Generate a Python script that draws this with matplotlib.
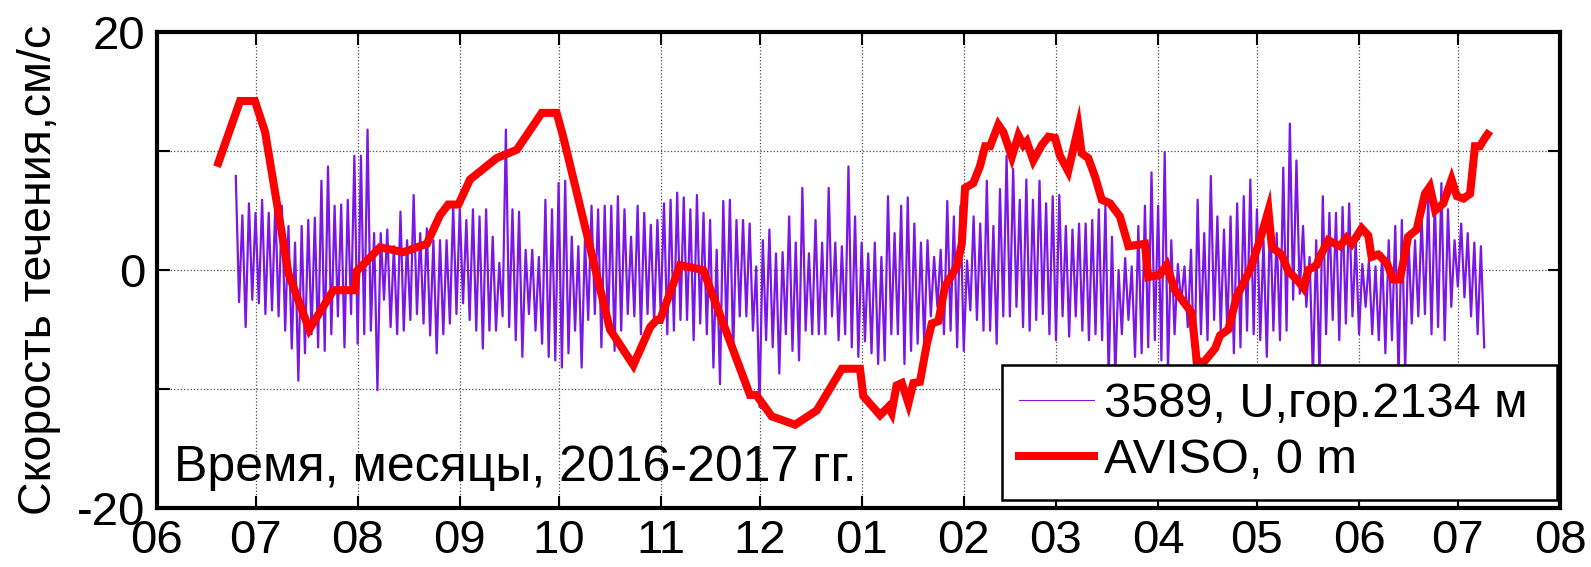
import numpy as np
import matplotlib
matplotlib.use('Agg')
import matplotlib.pyplot as plt
import matplotlib.dates as mdates
from datetime import datetime

plt.rcParams['font.family'] = ['Liberation Sans', 'DejaVu Sans']

# days counted from 2016-06-01
START = datetime(2016, 6, 1)

# AVISO surface velocity, cm/s
aviso_day = [18.7, 25.3, 29.8, 32.9, 40.0, 46.3, 53.6, 60.2, 60.7, 67.8, 74.9, 82.0, 86.0,
             88.5, 91.6, 95.1, 103.2, 109.3, 116.9, 121.4, 123.4, 137.6, 144.7, 149.8,
             151.8, 152.8, 158.9, 165.9, 180.1, 182.0, 186.7, 193.8, 200.4, 208.0, 213.5,
             214.5, 219.6, 222.1, 223.1, 224.6, 226.2, 228.2, 229.7, 231.7, 233.8, 235.3,
             237.3, 239.3, 242.9, 244.4, 245.4, 247.9, 249.9, 251.5, 253.0, 255.5, 257.0,
             259.6, 261.6, 263.1, 264.1, 266.1, 268.7, 270.7, 272.7, 274.2, 276.7, 279.8,
             280.8, 282.8, 284.9, 286.9, 289.4, 292.4, 295.0, 297.5, 300.0, 301.0, 304.6,
             306.6, 309.1, 314.2, 315.7, 317.7, 321.3, 322.8, 325.3, 327.9, 331.9, 334.9,
             337.5, 338.5, 339.5, 341.5, 343.5, 346.1, 348.1, 349.6, 352.1, 353.1, 355.7,
             357.7, 359.2, 361.2, 362.8, 365.8, 367.8, 368.8, 370.8, 373.4, 375.4, 377.4,
             378.4, 379.9, 382.5, 385.0, 386.5, 388.1, 390.6, 393.1, 394.7, 396.7, 398.7,
             400.2, 401.7, 403.0, 404.0]
aviso_val = [9.0, 14.2, 14.2, 11.6, -0.3, -5.0, -1.7, -1.7, -0.1, 1.9, 1.5, 2.2, 4.6,
             5.5, 5.5, 7.6, 9.4, 10.1, 13.2, 13.2, 11.2, -5.0, -8.0, -4.8,
             -4.2, -4.2, 0.4, 0.0, -10.5, -10.5, -12.3, -13.0, -11.8, -8.3, -8.3,
             -10.6, -12.2, -11.5, -12.0, -9.7, -9.5, -11.2, -9.5, -9.4, -6.2, -4.5,
             -4.3, -1.4, 0.3, 2.2, 6.9, 7.3, 8.7, 10.4, 10.4, 12.2, 11.6,
             9.5, 11.3, 10.5, 10.8, 9.2, 10.5, 11.2, 11.1, 9.6, 8.3, 12.0,
             9.8, 9.4, 7.8, 5.9, 5.6, 4.5, 2.0, 2.1, 2.2, -0.6, -0.4,
             0.4, -1.7, -3.6, -7.6, -7.8, -6.6, -5.5, -5.0, -2.2, 0.0, 2.5,
             5.0, 2.0, 1.7, 1.3, -0.1, -0.8, -1.5, 0.0, 0.4, 1.1, 2.5,
             2.2, 2.0, 2.7, 2.2, 3.5, 2.9, 1.1, 1.3, 0.6, -0.8, -0.8,
             0.6, 2.8, 3.4, 6.4, 7.0, 5.0, 5.6, 7.6, 6.2, 6.0, 6.4,
             10.4, 10.4, 11.0, 11.4]

# mooring 3589, U component at 2134 m: successive maxima / minima, 2-day steps from day 24
mooring_first_day = 24
mooring_step = 2
mooring_hi = [7.9, 4.6, 5.6, 4.8, 5.9, 4.8, 5.5, 5.4, 3.7, 2.3, 3.7, 4.2, 4.4, 7.5, 8.7, 5.4,
              5.5, 5.9, 9.6, 9.6, 11.8, 3.1, 3.1, 3.4, 2.0, 4.9, 2.5, 6.3, 3.1, 3.5, 2.5, 2.5,
              2.5, 5.4, 5.1, 4.2, 5.1, 4.5, 5.1, 2.8, 0.6, 11.8, 5.1, 4.9, 1.7, 1.7, 1.1, 5.9,
              5.1, 7.3, 7.5, 2.8, 2.0, 2.5, 5.4, 5.1, 5.4, 5.4, 6.2, 5.1, 2.8, 5.4, 4.8,
              3.8, 4.2, 5.6, 5.9, 6.5, 6.1, 5.1, 6.3, 4.8, 4.2, 1.7, 5.8, 5.9, 4.2, 4.2, 3.9,
              0.3, 2.5, 3.4, 1.4, 1.5, 4.5, 2.3, 6.9, 1.4, 4.2, 2.3, 6.9, 2.3, 2.0, 8.7, 4.5,
              2.3, 1.4, 2.3, 1.1, 6.2, 3.1, 5.4, 6.1, 3.9, 2.3, 2.5, 1.1, 1.7, 5.8, 4.5, 5.4,
              0.8, 4.5, 3.9, 7.5, 3.7, 6.8, 9.6, 8.5, 5.9, 7.6, 5.9, 7.5, 5.6, 6.2, 6.3, 3.7,
              3.4, 3.9, 3.9, 4.2, 5.1, 5.4, 2.8, 0.0, 1.0, 0.3, 3.7, 5.4, 8.2, 5.4, 9.9, 2.5,
              0.5, 0.3, 1.7, 5.9, 3.1, 7.9, 4.5, 3.4, 4.5, 5.6, 6.2, 7.6, 5.1, 2.5, 4.8, 3.1,
              8.6, 12.3, 9.2, 3.7, 1.1, 2.5, 6.2, 4.8, 4.8, 5.3, 5.6, 2.5, 0.5, 0.8, 0.3, 1.4,
              2.5, 3.7, 4.2, 2.8, 2.5, 4.5, 6.2, 5.9, 7.3, 5.1, 2.5, 3.9, 3.1, 2.3, 2.0]
mooring_lo = [-2.7, -4.8, -2.5, -2.8, -3.7, -3.4, -3.9, -5.1, -6.6, -9.3, -7.0, -5.4, -6.5,
              -6.8, -5.4, -3.9, -6.5, -3.7, -6.2, -5.4, -5.1, -10.1, -2.5, -4.8, -5.4, -5.1,
              -4.2, -3.7, -4.5, -5.5, -7.0, -5.4,
              -4.5, -3.7, -2.8, -4.2, -5.1, -6.6, -5.1, -5.1, -3.9, -4.8, -5.9, -7.3, -3.7,
              -5.1, -6.2, -7.3, -7.6, -8.2, -7.0, -5.1, -8.2, -4.2, -3.7, -6.5, -5.1, -6.8,
              -5.1, -3.7, -3.9, -5.4, -3.7,
              -4.5, -3.7, -5.4, -5.1, -4.2, -4.2, -5.9, -4.5, -5.4, -8.2, -9.6, -5.4, -7.0,
              -3.9, -3.9, -5.1, -11.5, -5.9, -6.5, -8.7, -5.4, -6.8, -7.6, -5.1, -5.4, -5.4,
              -5.4, -3.9, -5.9, -5.4, -6.5, -7.3,
              -6.0, -7.0, -7.9, -7.6, -5.4, -5.4, -7.9, -6.8, -6.2, -6.2, -3.9, -3.1, -5.4,
              -5.1, -6.5, -6.8, -3.4, -4.2, -5.1, -5.1, -6.2, -3.9, -3.9, -3.1, -4.8, -5.1,
              -4.2, -3.7, -5.4, -5.9, -3.9, -5.6,
              -3.9, -5.1, -5.9, -5.4, -5.9, -9.0, -9.0, -5.4, -4.2, -7.3, -7.0, -6.5, -5.9,
              -7.6, -8.5, -5.4, -2.8, -4.8, -9.0, -5.4, -5.9, -4.2, -5.1, -5.1, -7.0, -6.5,
              -5.1, -5.4, -5.9, -7.3, -5.1, -5.9,
              -5.1, -2.5, -2.0, -3.1, -9.0, -9.0, -5.4, -4.2, -5.9, -4.5, -3.9, -5.4, -3.1,
              -5.4, -5.9, -7.0, -5.9, -9.0, -8.5, -4.5, -3.9, -3.7, -5.4, -4.8, -5.9, -3.1,
              -1.4, -2.3, -3.9, -5.4, -6.5]

month_fmt = '%m'
y_ticks = [-20, -10, 0, 10, 20]
y_ticklabels = ['-20', '', '0', '', '20']
label_mooring = '3589, U,гор.2134 м'
label_aviso = 'AVISO, 0 m'
ylabel = 'Скорость течения,см/с'
xnote = 'Время, месяцы, 2016-2017 гг.'

t0 = mdates.date2num(START)

# interleave maxima and minima into one trace
n = min(len(mooring_hi), len(mooring_lo))
m_day = []
m_val = []
for i in range(n):
    d = mooring_first_day + i * mooring_step
    m_day += [d, d + mooring_step / 2]
    m_val += [mooring_hi[i], mooring_lo[i]]
m_t = t0 + np.array(m_day)
a_t = t0 + np.array(aviso_day)

fig = plt.figure(figsize=(15.91, 5.67), dpi=100)
ax = fig.add_axes([0.0985, 0.1041, 0.882, 0.8395])

ax.plot(m_t, m_val, color='#7a16e6', linewidth=1.6, label=label_mooring)
ax.plot(a_t, aviso_val, color='#ff0000', linewidth=5.8, solid_joinstyle='miter',
        label=label_aviso)

ax.set_xlim(mdates.date2num(datetime(2016, 6, 1)), mdates.date2num(datetime(2017, 8, 1)))
ax.set_ylim(-20, 20)
ax.xaxis.set_major_locator(mdates.MonthLocator())
ax.xaxis.set_major_formatter(mdates.DateFormatter(month_fmt))
ax.set_yticks(y_ticks)
ax.set_yticklabels(y_ticklabels)

ax.grid(True, linestyle=':', color='0.3', linewidth=0.9)
ax.tick_params(direction='in', length=9, width=1.5, top=True, right=True,
               labelsize=34, pad=8)
for s in ax.spines.values():
    s.set_linewidth(3)

ax.set_ylabel(ylabel, fontsize=33.5, labelpad=12)
ax.text(174, 567 - 481, xnote, transform=None, fontsize=36, va='baseline')

leg = ax.legend(loc='lower left', bbox_to_anchor=(0.6024, 0.0168, 0.3955, 0.28),
                mode='expand', borderaxespad=0, fontsize=35, fancybox=False,
                framealpha=1, edgecolor='black', handlelength=1.55, handletextpad=0.2,
                borderpad=0.35, labelspacing=0.22)
leg.get_frame().set_linewidth(1.8)
leg.get_lines()[0].set_linewidth(0.8)

fig.savefig('out.png', dpi=100)
